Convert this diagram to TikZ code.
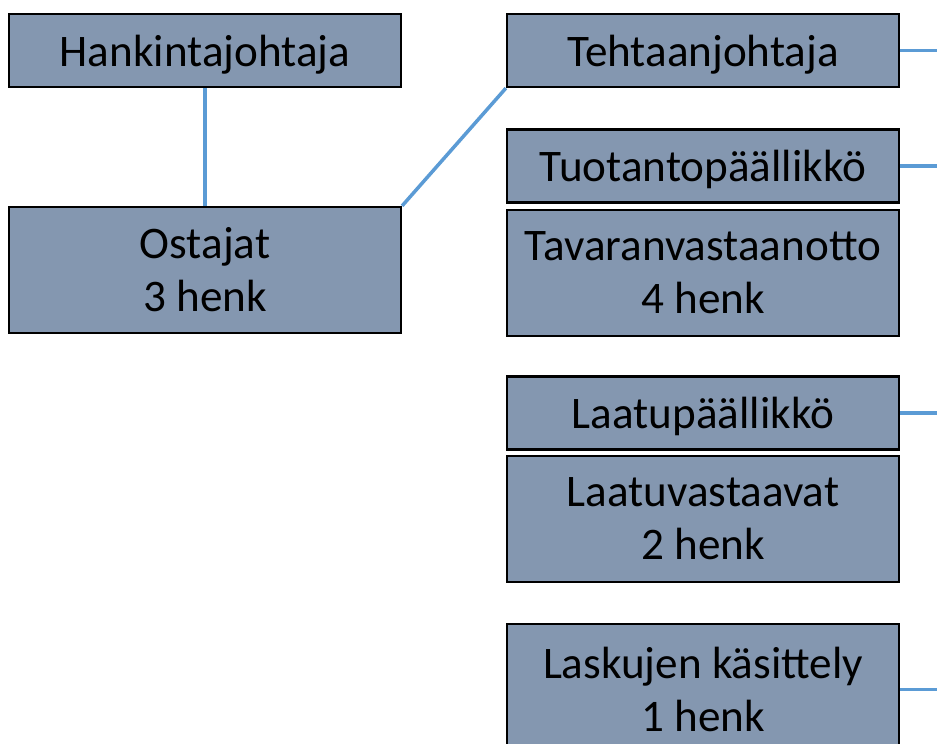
\documentclass[tikz,border=0pt]{standalone}
\usepackage{fontspec}
\setmainfont{Carlito}
\usepackage{tikz}
\usetikzlibrary{positioning}
\definecolor{boxgray}{HTML}{8497B0}
\definecolor{linkblue}{HTML}{5B9BD5}

\begin{document}
\begin{tikzpicture}[
      x=0.02cm, y=-0.02cm,
      box/.style={draw=black, fill=boxgray, line width=1.3pt, inner sep=0pt,
                  align=center, minimum width=7.84cm, minimum height=1.46cm,
                  font=\fontsize{25.7}{30.2}\selectfont},
      headbox/.style={box, text height=21.6pt, text depth=3.9pt},
      tallbox/.style={box, minimum height=2.52cm},
      link/.style={draw=linkblue, line width=2pt}
    ]
      \clip (0,0) rectangle (937,744);
      \coordinate (rim) at (937,0);

      % left column
      \node[headbox] (hankinta) at (205,50.5) {Hankintajohtaja};
      \node[tallbox] (ostajat) at (205,270) {Ostajat\\3 henk};

      % right column
      \node[headbox] (tehdas) at (703,50.5) {Tehtaanjohtaja};
      \node[headbox] (tuotanto) at (703,166) {Tuotantopäällikkö};
      \node[tallbox, below=0.1cm of tuotanto] (tavara) {Tavaranvastaanotto\\4 henk};
      \node[headbox] (laatu) at (703,413) {Laatupäällikkö};
      \node[tallbox, below=0.08cm of laatu] (laatuv) {Laatuvastaavat\\2 henk};
      \node[tallbox, minimum height=2.62cm] (laskut) at (703,689.5) {Laskujen käsittely\\1 henk};

      \draw[link] (hankinta) -- (ostajat);
      \draw[link] (ostajat.north east) -- (tehdas.south west);
      \draw[link] (tehdas.east) -- (tehdas.east -| rim);
      \draw[link] (tuotanto.east) -- (tuotanto.east -| rim);
      \draw[link] (laatu.east) -- (laatu.east -| rim);
      \draw[link] (laskut.east) -- (laskut.east -| rim);
    \end{tikzpicture}
\end{document}
